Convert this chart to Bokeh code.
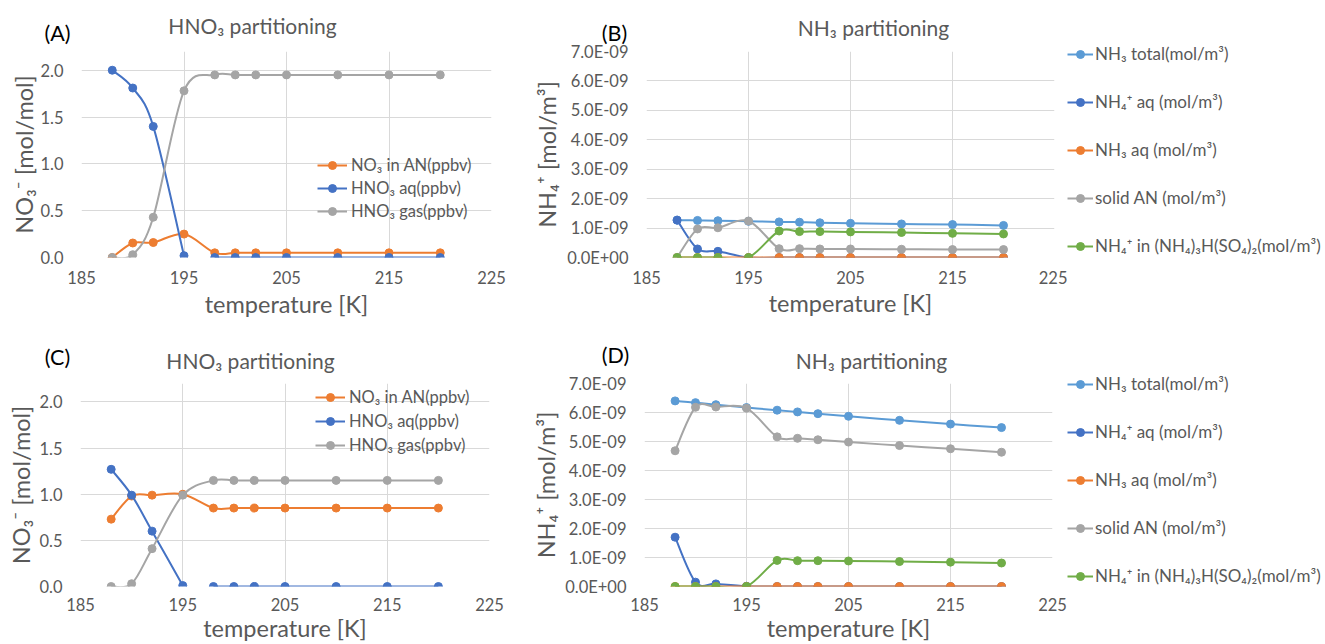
from bokeh.plotting import figure
from bokeh.layouts import column, row
from bokeh.models import (ColumnDataSource, Legend, LegendItem, Label, FixedTicker,
                          CustomJSTickFormatter, Range1d, PrintfTickFormatter)
from bokeh.embed import file_html
from bokeh.resources import INLINE

# ---------------- data ----------------
temperature = [188, 190, 192, 195, 198, 200, 202, 205, 210, 215, 220]

# (A) HNO3 partitioning
a_no3_in_an = [0.0, 0.155, 0.16, 0.25, 0.05, 0.05, 0.05, 0.05, 0.05, 0.05, 0.05]
a_hno3_aq = [2.0, 1.81, 1.40, 0.02, 0.0, 0.0, 0.0, 0.0, 0.0, 0.0, 0.0]
a_hno3_gas = [0.0, 0.03, 0.43, 1.78, 1.95, 1.95, 1.95, 1.95, 1.95, 1.95, 1.95]

# (B) NH3 partitioning (mol/m3)
b_nh3_total = [1.27e-9, 1.26e-9, 1.25e-9, 1.23e-9, 1.21e-9, 1.20e-9, 1.18e-9, 1.16e-9, 1.14e-9, 1.12e-9, 1.09e-9]
b_nh4_aq = [1.27e-9, 0.29e-9, 0.21e-9, 0.0, 0.0, 0.0, 0.0, 0.0, 0.0, 0.0, 0.0]
b_nh3_aq = [0.0, 0.0, 0.0, 0.0, 0.0, 0.0, 0.0, 0.0, 0.0, 0.0, 0.0]
b_solid_an = [0.0, 0.97e-9, 1.01e-9, 1.24e-9, 0.30e-9, 0.30e-9, 0.29e-9, 0.29e-9, 0.28e-9, 0.27e-9, 0.27e-9]
b_nh4_letovicite = [0.0, 0.0, 0.0, 0.0, 0.90e-9, 0.88e-9, 0.88e-9, 0.87e-9, 0.85e-9, 0.82e-9, 0.80e-9]

# (C) HNO3 partitioning
c_no3_in_an = [0.73, 0.98, 0.99, 1.00, 0.85, 0.85, 0.85, 0.85, 0.85, 0.85, 0.85]
c_hno3_aq = [1.27, 0.99, 0.60, 0.01, 0.0, 0.0, 0.0, 0.0, 0.0, 0.0, 0.0]
c_hno3_gas = [0.0, 0.03, 0.41, 0.99, 1.15, 1.15, 1.15, 1.15, 1.15, 1.15, 1.15]

# (D) NH3 partitioning (mol/m3)
d_nh3_total = [6.40e-9, 6.34e-9, 6.27e-9, 6.17e-9, 6.08e-9, 6.02e-9, 5.96e-9, 5.87e-9, 5.73e-9, 5.60e-9, 5.48e-9]
d_nh4_aq = [1.70e-9, 0.15e-9, 0.09e-9, 0.01e-9, 0.0, 0.0, 0.0, 0.0, 0.0, 0.0, 0.0]
d_nh3_aq = [0.0, 0.0, 0.0, 0.0, 0.0, 0.0, 0.0, 0.0, 0.0, 0.0, 0.0]
d_solid_an = [4.68e-9, 6.18e-9, 6.19e-9, 6.15e-9, 5.16e-9, 5.11e-9, 5.06e-9, 4.98e-9, 4.86e-9, 4.75e-9, 4.63e-9]
d_nh4_letovicite = [0.0, 0.0, 0.0, 0.0, 0.90e-9, 0.89e-9, 0.89e-9, 0.88e-9, 0.86e-9, 0.84e-9, 0.81e-9]

# the HNO3 aq line is not connected between 195 K and the next point (gap in the source chart)
hno3_aq_line_break_after = [195]

x_ticks = [185, 195, 205, 215, 225]
hno3_ticks = [0.0, 0.5, 1.0, 1.5, 2.0]
nh3_ticks = [0.0, 1e-9, 2e-9, 3e-9, 4e-9, 5e-9, 6e-9, 7e-9]

hno3_names = ["NO\u2083 in AN(ppbv)", "HNO\u2083 aq(ppbv)", "HNO\u2083 gas(ppbv)"]
nh3_names = ["NH\u2083 total(mol/m\u00b3)", "NH\u2084\u207a aq (mol/m\u00b3)", "NH\u2083 aq (mol/m\u00b3)",
             "solid AN (mol/m\u00b3)", "NH\u2084\u207a in (NH\u2084)\u2083H(SO\u2084)\u2082(mol/m\u00b3)"]

hno3_colors = ["#ED7D31", "#4472C4", "#A5A5A5"]
nh3_colors = ["#5B9BD5", "#4472C4", "#ED7D31", "#A5A5A5", "#70AD47"]

FONT = "Lato"
TXT = "#595959"


def smooth_source(xs, ys, breaks=()):
    # Excel-style smoothed line: one cubic Bezier per segment (Catmull-Rom control points),
    # computed separately for every unbroken run of points
    runs, cur = [], [0]
    for i in range(1, len(xs)):
        if xs[i - 1] in breaks:
            runs.append(cur)
            cur = [i]
        else:
            cur.append(i)
    runs.append(cur)
    d = dict(x0=[], y0=[], x1=[], y1=[], cx0=[], cy0=[], cx1=[], cy1=[])
    for run in runs:
        rx = [xs[k] for k in run]
        ry = [ys[k] for k in run]
        n = len(rx)
        for i in range(n - 1):
            a = max(i - 1, 0)
            b = min(i + 2, n - 1)
            d["x0"].append(rx[i]); d["y0"].append(ry[i])
            d["x1"].append(rx[i + 1]); d["y1"].append(ry[i + 1])
            d["cx0"].append(rx[i] + (rx[i + 1] - rx[a]) / 6.0)
            d["cy0"].append(ry[i] + (ry[i + 1] - ry[a]) / 6.0)
            d["cx1"].append(rx[i + 1] - (rx[b] - rx[i]) / 6.0)
            d["cy1"].append(ry[i + 1] - (ry[b] - ry[i]) / 6.0)
    return ColumnDataSource(d)


def style_legend(leg, size, spacing, glyph_w, standoff):
    leg.label_text_font = FONT
    leg.label_text_font_size = size
    leg.label_text_color = TXT
    leg.glyph_width = glyph_w
    leg.glyph_height = 20
    leg.label_height = 20
    leg.spacing = spacing
    leg.padding = 0
    leg.margin = 0
    leg.label_standoff = standoff
    leg.border_line_color = None
    leg.background_fill_alpha = 0
    leg.inactive_fill_alpha = 0


def make_panel(width, height, bl, br, bt, bb, yr, yticks, ylabel, y_std, ylab_std, series, names, colors,
               breaks, title, tag, title_y, title_x, tag_y, tag_x, x_std, xlab_std,
               legend_loc, legend_spacing, sci):
    p = figure(width=width, height=height, output_backend="svg", toolbar_location=None,
               x_range=Range1d(185, 225), y_range=Range1d(*yr), title=None,
               min_border_left=bl, min_border_right=br, min_border_top=bt, min_border_bottom=bb)
    p.outline_line_color = None
    p.background_fill_color = "white"
    p.border_fill_color = "white"
    p.xaxis.ticker = FixedTicker(ticks=x_ticks)
    p.yaxis.ticker = FixedTicker(ticks=yticks)
    p.xgrid.ticker = FixedTicker(ticks=x_ticks)
    p.ygrid.ticker = FixedTicker(ticks=yticks)
    p.grid.grid_line_color = "#D9D9D9"
    p.grid.grid_line_width = 1
    for ax in (p.xaxis[0], p.yaxis[0]):
        ax.axis_line_color = None
        ax.major_tick_line_color = None
        ax.minor_tick_line_color = None
        ax.major_tick_out = 0
        ax.major_tick_in = 0
        ax.minor_tick_out = 0
        ax.minor_tick_in = 0
        ax.major_label_text_font = FONT
        ax.major_label_text_font_size = "16.5px"
        ax.major_label_text_color = TXT
        ax.axis_label_text_font = FONT
        ax.axis_label_text_font_size = "23.5px"
        ax.axis_label_text_font_style = "normal"
        ax.axis_label_text_color = TXT
    p.xaxis.major_label_standoff = x_std
    p.yaxis.major_label_standoff = y_std
    if sci:
        p.yaxis.formatter = CustomJSTickFormatter(code="""
            const s = tick.toExponential(1);
            const parts = s.split('e');
            const n = parseInt(parts[1]);
            const sign = n < 0 ? '-' : '+';
            return parts[0] + 'E' + sign + String(Math.abs(n)).padStart(2, '0');
        """)
    else:
        p.yaxis.formatter = PrintfTickFormatter(format="%.1f")
    p.yaxis.axis_label = ylabel
    p.yaxis.axis_label_standoff = ylab_std
    p.xaxis.axis_label = "temperature [K]"
    p.xaxis.axis_label_standoff = xlab_std

    items = []
    for ys, name, c, br_ in zip(series, names, colors, breaks):
        r1 = p.bezier(x0="x0", y0="y0", x1="x1", y1="y1", cx0="cx0", cy0="cy0", cx1="cx1", cy1="cy1",
                      source=smooth_source(temperature, ys, br_), line_color=c, line_width=2)
        r2 = p.scatter(temperature, ys, marker="circle", size=8, fill_color=c, line_color=c)
        items.append(LegendItem(label=name, renderers=[r1, r2]))
    if legend_loc is not None:
        leg = Legend(items=items, location=legend_loc, orientation="vertical")
        style_legend(leg, "16.5px", legend_spacing, 30, 4)
        p.add_layout(leg)

    p.add_layout(Label(x=title_x, y=title_y, x_units="screen", y_units="screen",
                       text=title, text_font=FONT, text_font_size="21px", text_color=TXT,
                       text_align="center", text_baseline="middle"), "above")
    p.add_layout(Label(x=tag_x, y=tag_y, x_units="screen", y_units="screen",
                       text=tag, text_font=FONT, text_font_size="21.5px", text_color="black",
                       text_align="center", text_baseline="middle"), "above")
    return p


def legend_figure(width, height, series, names, colors, loc, spacing):
    # a separate, axis-less figure holding only the outside legend of the NH3 panels
    lf = figure(width=width, height=height, output_backend="svg", toolbar_location=None,
                x_range=Range1d(0, 1), y_range=Range1d(0, 1), title=None,
                x_axis_location=None, y_axis_location=None,
                min_border_left=0, min_border_right=0, min_border_top=0, min_border_bottom=0)
    lf.outline_line_color = None
    lf.grid.visible = False
    items = []
    for ys, name, c in zip(series, names, colors):
        r1 = lf.line(temperature, ys, line_color=c, line_width=2, visible=False)
        r2 = lf.scatter(temperature, ys, marker="circle", size=8, fill_color=c, line_color=c, visible=False)
        items.append(LegendItem(label=name, renderers=[r1, r2]))
    leg = Legend(items=items, location=loc, orientation="vertical")
    style_legend(leg, "17px", spacing, 26, 2)
    lf.add_layout(leg)
    return lf


hno3_breaks = [[], hno3_aq_line_break_after, []]
nh3_breaks = [[], [], [], [], []]
b_series = [b_nh3_total, b_nh4_aq, b_nh3_aq, b_solid_an, b_nh4_letovicite]
d_series = [d_nh3_total, d_nh4_aq, d_nh3_aq, d_solid_an, d_nh4_letovicite]

pa = make_panel(520, 320, 81, 29, 51, 63, (0, 2.2), hno3_ticks, "NO\u2083\u207b [mol/mol]", 18, -1,
                [a_no3_in_an, a_hno3_aq, a_hno3_gas], hno3_names, hno3_colors, hno3_breaks,
                "HNO\u2083 partitioning", "(A)", 26, 171, -6, -24, 13, 3, (236, 36), 3, False)
pb = make_panel(547, 320, 126, 13, 51, 61, (0, 7e-9), nh3_ticks, "NH\u2084\u207a [mol/m\u00b3]", 18, 3,
                b_series, nh3_names, nh3_colors, nh3_breaks,
                "NH\u2083 partitioning", "(B)", 24, 227, -6, -32, 13, 2, None, 0, True)
lb = legend_figure(258, 320, b_series, nh3_names, nh3_colors, (0, 64), 27)
pc = make_panel(520, 324, 80, 31, 63, 58, (0, 2.2), hno3_ticks, "NO\u2083\u207b [mol/mol]", 18, 1,
                [c_no3_in_an, c_hno3_aq, c_hno3_gas], hno3_names, hno3_colors, hno3_breaks,
                "HNO\u2083 partitioning", "(C)", 23, 170, 2, -23, 11, 0, (235, 131), 4, False)
pd_ = make_panel(547, 324, 124, 15, 63, 58, (0, 7e-9), nh3_ticks, "NH\u2084\u207a [mol/m\u00b3]", 18, 2,
                 d_series, nh3_names, nh3_colors, nh3_breaks,
                 "NH\u2083 partitioning", "(D)", 23, 227, 4, -29, 11, 0, None, 0, True)
ld = legend_figure(258, 324, d_series, nh3_names, nh3_colors, (0, 58), 27)

layout = row(column(row(pa, pb), row(pc, pd_)), column(lb, ld))
open("out.html", "w").write(file_html(layout, INLINE))
